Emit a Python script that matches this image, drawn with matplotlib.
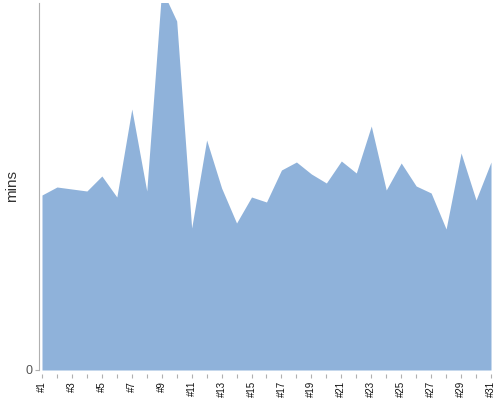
import matplotlib
matplotlib.use("Agg")
import matplotlib.pyplot as plt
import numpy as np

labels = ["#%d" % i for i in range(1, 32)]
mins = [17.5, 18.3, 18.1, 17.9, 19.4, 17.3, 26.1, 17.9, 38.1, 34.9,
        14.2, 23.0, 18.2, 14.7, 17.3, 16.8, 20.0, 20.8, 19.6, 18.7,
        20.9, 19.7, 24.4, 18.0, 20.7, 18.4, 17.7, 14.1, 21.7, 17.0, 20.8]

plt.rcParams['font.family'] = ['Liberation Sans', 'DejaVu Sans']

fig = plt.figure(figsize=(5, 4), dpi=100)
ax = fig.add_axes([0.078, 0.075, 0.904, 0.9175])
x = np.arange(1, len(mins) + 1)
ax.fill_between(x, 0, mins, color='#8FB2DA', linewidth=0)
ax.set_xlim(0.8, 31)
ax.set_ylim(0, 36.7)

for s in ['top', 'right', 'bottom']:
    ax.spines[s].set_visible(False)
ax.spines['left'].set_color('#b0b0b0')
ax.spines['bottom'].set_position(('outward', 3))

ax.set_yticks([0])
ax.set_yticklabels(['0'], fontsize=9, color='#555555')
ax.tick_params(axis='y', length=3, color='#b0b0b0', pad=2)

ax.set_xticks(x)
ax.set_xticklabels([l if i % 2 == 0 else '' for i, l in enumerate(labels)],
                   rotation=90, fontsize=7, color='#111111')
ax.tick_params(axis='x', length=3, color='#b0b0b0', pad=2)

ax.set_ylabel('mins', fontsize=11, color='#333333')
ax.yaxis.set_label_coords(-0.044, 0.5)

fig.savefig('out.png', dpi=100)
